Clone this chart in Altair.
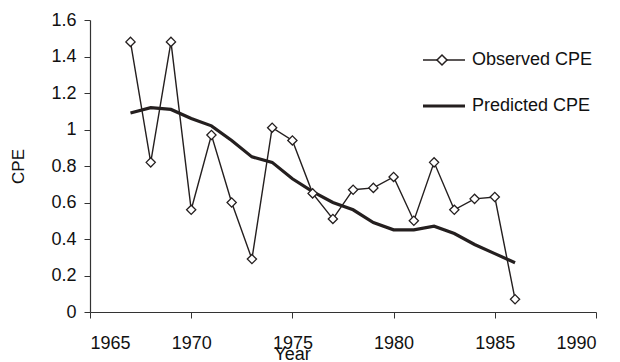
import altair as alt
import pandas as pd

years = list(range(1967, 1987))
observed = [1.48, 0.82, 1.48, 0.56, 0.97, 0.60, 0.29, 1.01, 0.94, 0.65,
            0.51, 0.67, 0.68, 0.74, 0.50, 0.82, 0.56, 0.62, 0.63, 0.07]
predicted = [1.09, 1.12, 1.11, 1.06, 1.02, 0.94, 0.85, 0.82, 0.73, 0.66,
             0.60, 0.56, 0.49, 0.45, 0.45, 0.47, 0.43, 0.37, 0.32, 0.27]
series_names = ["Observed CPE", "Predicted CPE"]
x_ticks = [1965, 1970, 1975, 1980, 1985, 1990]
y_ticks = [0, 0.2, 0.4, 0.6, 0.8, 1.0, 1.2, 1.4, 1.6]

df = pd.DataFrame({
    "Year": years * 2,
    "CPE": observed + predicted,
    "Series": [series_names[0]] * len(years) + [series_names[1]] * len(years),
})
obs_df = pd.DataFrame({"Year": years, "CPE": observed, "Marker": [series_names[0]] * len(years)})

FONT = "Liberation Sans"
INK = "#241f1f"

x_enc = alt.X(
    "Year:Q",
    scale=alt.Scale(domain=[1965, 1990], nice=False, zero=False),
    axis=alt.Axis(values=x_ticks, format="d", grid=False, tickSize=6, labelPadding=16,
                  labelFontSize=18, labelFont=FONT, labelColor="#111", labelOverlap=False,
                  title="Year", titleFontSize=18, titleFont=FONT, titleColor="#111",
                  titleFontWeight="normal",
                  titleX=202, titleY=33, titleBaseline="top", titleAnchor="middle", titleAlign="center"),
)
y_enc = alt.Y(
    "CPE:Q",
    scale=alt.Scale(domain=[0, 1.6], nice=False),
    axis=alt.Axis(values=y_ticks, tickCount=9, format="~g", grid=False, tickSize=6, labelPadding=8,
                  labelFontSize=18, labelFont=FONT, labelColor="#111", labelOverlap=False,
                  title="CPE", titleFontSize=17, titleFont=FONT, titleColor="#111",
                  titleFontWeight="normal",
                  titleX=-63, titleY=146, titleAngle=270, titleBaseline="bottom", titleAlign="center"),
)

lines = alt.Chart(df).mark_line(color=INK).encode(
    x=x_enc,
    y=y_enc,
    strokeWidth=alt.StrokeWidth(
        "Series:N",
        scale=alt.Scale(domain=series_names, range=[1.4, 3.2]),
        legend=alt.Legend(
            title=None, orient="none", legendX=331, legendY=18,
            symbolType="stroke", symbolSize=1764, symbolStrokeColor=INK,
            labelFontSize=18, labelFont=FONT, labelColor="#111", labelOffset=5,
            rowPadding=14, padding=0, zindex=1,
        ),
    ),
)

points = alt.Chart(obs_df).mark_point(
    shape="diamond", filled=True, fill="white", stroke=INK, strokeWidth=1.3, size=85, opacity=1
).encode(
    x=x_enc,
    y=y_enc,
    shape=alt.Shape(
        "Marker:N",
        scale=alt.Scale(domain=[series_names[0]], range=["diamond"]),
        legend=alt.Legend(
            title=None, orient="none", legendX=346, legendY=34,
            labelFontSize=8, labelFont=FONT, labelExpr="''",
            padding=0, zindex=2,
        ),
    ),
)

chart = alt.layer(lines, points).resolve_legend(
    strokeWidth="independent", shape="independent"
).properties(
    width=506, height=292,
    background="white",
    autosize=alt.AutoSizeParams(type="none"),
    padding={"left": 90, "top": 20, "right": 24, "bottom": 50},
).configure_view(stroke=None).configure_axis(
    domainColor="#333", tickColor="#333", domainWidth=1.2,
)

chart.save("out.html", embed_options={"renderer": "svg", "actions": False})
